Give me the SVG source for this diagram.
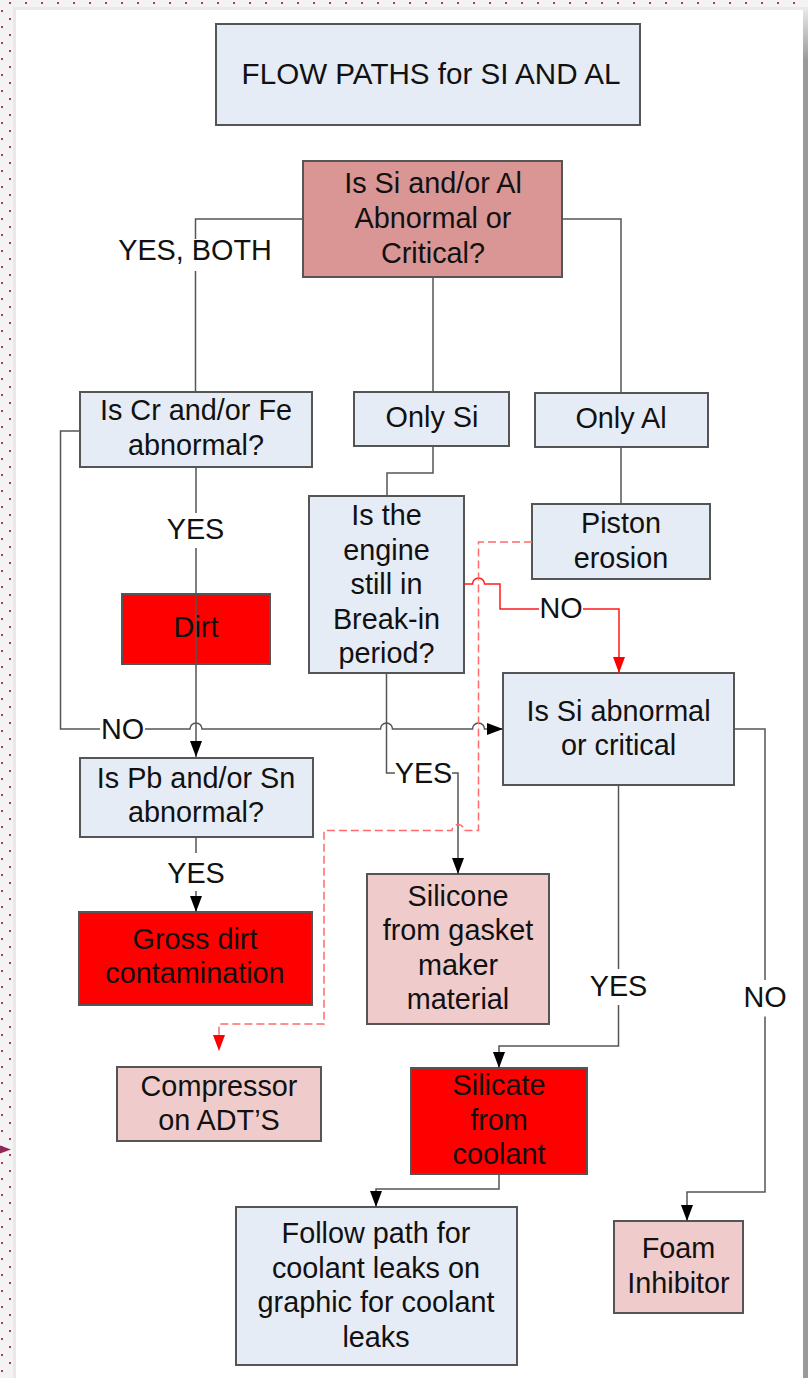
<svg xmlns="http://www.w3.org/2000/svg" width="808" height="1378" viewBox="0 0 808 1378">
<defs>
<style>
text{font-family:"Liberation Sans",Arial,sans-serif;font-size:28.8px;fill:#111;text-anchor:middle}
.box{stroke:#555;stroke-width:2}
.lb{fill:#e6ecf6}
.rose{fill:#d99694}
.red{fill:#ff0000}
.pink{fill:#efcccb}
.c{fill:none;stroke:#555;stroke-width:1.5}
.cr{fill:none;stroke:#ff1a1a;stroke-width:1.5}
.cd{fill:none;stroke:#ff6a6a;stroke-width:1.5;stroke-dasharray:8 4}
</style>
<pattern id="dots" x="0" y="0" width="16" height="16" patternUnits="userSpaceOnUse">
<rect x="9" y="2" width="2" height="2" fill="#b3386a"/>
<rect x="1" y="10" width="2" height="2" fill="#b3386a"/>
</pattern>
<linearGradient id="rg" x1="0" y1="10" x2="0" y2="60" gradientUnits="userSpaceOnUse">
<stop offset="0" stop-color="#e6e6e6"/>
<stop offset="1" stop-color="#9a9a9a"/>
</linearGradient>
<marker id="ab" markerWidth="16" markerHeight="12" refX="16" refY="6" orient="auto" markerUnits="userSpaceOnUse">
<path d="M0,0 L16,6 L0,12 z" fill="#000"/>
</marker>
<marker id="ar" markerWidth="16" markerHeight="12" refX="16" refY="6" orient="auto" markerUnits="userSpaceOnUse">
<path d="M0,0 L16,6 L0,12 z" fill="#ff0000"/>
</marker>
</defs>

<g id="page">
<rect x="0" y="0" width="808" height="1378" fill="#f3f3f3"/>
<rect x="13" y="7" width="795" height="1371" fill="#e9e9e9"/>
<rect x="16" y="10" width="787" height="1368" fill="#ffffff"/>
<rect x="803" y="10" width="5" height="1368" fill="url(#rg)"/>
<rect x="0" y="0" width="808" height="6" fill="url(#dots)"/>
<rect x="0" y="0" width="13" height="1378" fill="url(#dots)"/>
<polygon points="0,1145.5 11,1149.5 0,1153.5" fill="#8c2a55"/>
</g>

<g id="n-title"><rect class="box lb" x="216" y="24" width="424" height="101"/><text x="431" y="84" style="font-size:29.6px">FLOW PATHS for SI AND AL</text></g>
<g id="n-q1"><rect class="box rose" x="303" y="161" width="259" height="116"/><text x="433" y="193">Is Si and/or Al</text><text x="433" y="228">Abnormal or</text><text x="433" y="263">Critical?</text></g>
<g id="n-cr"><rect class="box lb" x="80" y="392" width="232" height="75"/><text x="196" y="420">Is Cr and/or Fe</text><text x="196" y="455">abnormal?</text></g>
<g id="n-onlysi"><rect class="box lb" x="354" y="392" width="155" height="54"/><text x="432" y="427">Only Si</text></g>
<g id="n-onlyal"><rect class="box lb" x="535" y="393" width="173" height="54"/><text x="621" y="428">Only Al</text></g>
<g id="n-piston"><rect class="box lb" x="532" y="504" width="178" height="75"/><text x="621" y="533">Piston</text><text x="621" y="568">erosion</text></g>
<g id="n-breakin"><rect class="box lb" x="309" y="496" width="155" height="177"/><text x="386.5" y="525">Is the</text><text x="386.5" y="559.5">engine</text><text x="386.5" y="594">still in</text><text x="386.5" y="628.5">Break-in</text><text x="386.5" y="663">period?</text></g>
<g id="n-dirt"><rect class="box red" x="122" y="594" width="148" height="70"/><text x="196" y="637">Dirt</text></g>
<g id="n-siab"><rect class="box lb" x="503" y="673" width="231" height="112"/><text x="618.5" y="721">Is Si abnormal</text><text x="618.5" y="755">or critical</text></g>
<g id="n-pb"><rect class="box lb" x="80" y="758" width="233" height="79"/><text x="196" y="788">Is Pb and/or Sn</text><text x="196" y="822">abnormal?</text></g>
<g id="n-gross"><rect class="box red" x="79" y="912" width="233" height="93"/><text x="195" y="949">Gross dirt</text><text x="195" y="983">contamination</text></g>
<g id="n-silicone"><rect class="box pink" x="367" y="874" width="182" height="150"/><text x="458" y="906">Silicone</text><text x="458" y="940">from gasket</text><text x="458" y="975">maker</text><text x="458" y="1009">material</text></g>
<g id="n-compressor"><rect class="box pink" x="117" y="1067" width="204" height="74"/><text x="219" y="1096">Compressor</text><text x="219" y="1130">on ADT’S</text></g>
<g id="n-silicate"><rect class="box red" x="411" y="1068" width="176" height="106"/><text x="499" y="1095">Silicate</text><text x="499" y="1129.5">from</text><text x="499" y="1164">coolant</text></g>
<g id="n-follow"><rect class="box lb" x="236" y="1207" width="281" height="158"/><text x="376" y="1243">Follow path for</text><text x="376" y="1277.5">coolant leaks on</text><text x="376" y="1312">graphic for coolant</text><text x="376" y="1346.5">leaks</text></g>
<g id="n-foam"><rect class="box pink" x="614" y="1221" width="129" height="92"/><text x="678.5" y="1258">Foam</text><text x="678.5" y="1293">Inhibitor</text></g>

<g id="connectors">
<path class="c" d="M303,219 H195.5 V239 M195.5,271 V392"/>
<text x="195" y="260">YES, BOTH</text>
<path class="c" d="M433,277 V392"/>
<path class="c" d="M562,219 H621 V393"/>
<path class="c" d="M433,446 V473 H387 V496"/>
<path class="c" d="M621,447 V504"/>
<path class="c" d="M196,467 V513"/>
<path class="c" d="M196,548 V757" marker-end="url(#ab)"/>
<text x="195.5" y="538.5">YES</text>
<path class="c" d="M80,431 H60.5 V729 H100"/>
<path class="c" d="M145,729 H190 a6,6 0 0 1 12,0 H380.5 a6,6 0 0 1 12,0 H472.5 a6,6 0 0 1 12,0 H503" marker-end="url(#ab)"/>
<text x="122.5" y="739">NO</text>
<path class="c" d="M386.5,673 V773 H395"/>
<path class="c" d="M452,773 H458 V874" marker-end="url(#ab)"/>
<text x="423.5" y="783">YES</text>
<path class="c" d="M196,837 V853"/>
<path class="c" d="M196,891 V912" marker-end="url(#ab)"/>
<text x="196" y="883">YES</text>
<path class="c" d="M618.5,785 V969"/>
<path class="c" d="M618.5,1005 V1046 H499 V1068" marker-end="url(#ab)"/>
<text x="618.5" y="996">YES</text>
<path class="c" d="M734,729 H765 V980"/>
<path class="c" d="M765,1016.5 V1192 H687 V1221" marker-end="url(#ab)"/>
<text x="765" y="1006.5">NO</text>
<path class="c" d="M499,1174 V1189 H376 V1207" marker-end="url(#ab)"/>
<path class="cr" d="M464,584 H472.5 a6,6 0 0 1 12,0 H500 V609 H539"/>
<path class="cr" d="M583,609 H619 V673" marker-end="url(#ar)"/>
<text x="561" y="618">NO</text>
<path class="cd" d="M532,542 H478.5 V830.5 H464 a6,6 0 0 0 -12,0 H324 V1024 H219 V1051" marker-end="url(#ar)"/>
</g>
</svg>
